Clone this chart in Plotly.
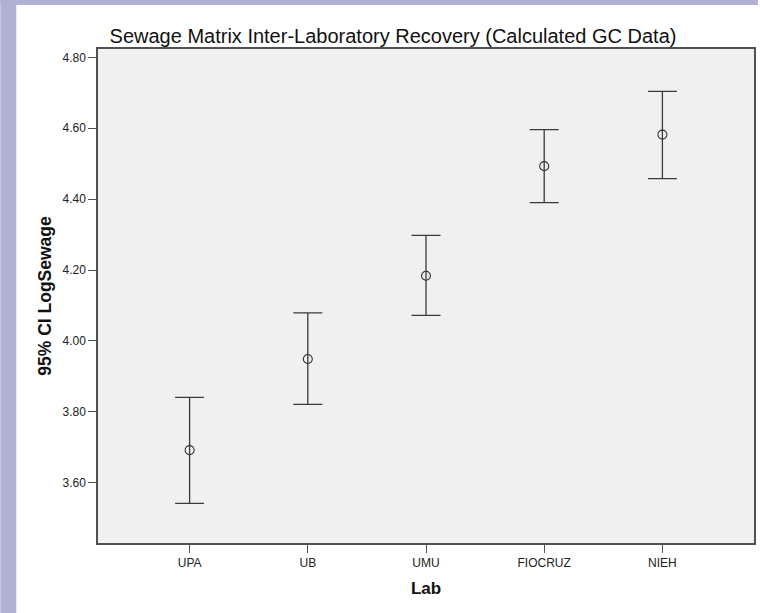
import plotly.graph_objects as go

labs = ["UPA", "UB", "UMU", "FIOCRUZ", "NIEH"]
means = [3.692, 3.949, 4.184, 4.493, 4.582]
upper = [3.841, 4.079, 4.298, 4.596, 4.704]
lower = [3.542, 3.821, 4.072, 4.390, 4.458]
yticks = [3.60, 3.80, 4.00, 4.20, 4.40, 4.60, 4.80]

err_plus = [u - m for u, m in zip(upper, means)]
err_minus = [m - l for m, l in zip(means, lower)]

fig = go.Figure()
fig.add_trace(go.Scatter(
    x=list(range(len(labs))), y=means, mode="markers",
    marker=dict(symbol="circle-open", size=9, color="#333333", line=dict(width=1.1, color="#333333")),
    error_y=dict(type="data", symmetric=False, array=err_plus, arrayminus=err_minus,
                 color="#3a3a3a", thickness=1.3, width=14.5),
    showlegend=False, hoverinfo="skip",
))

W, H = 760, 613
L, R, T, B = 98, 4, 49, 70
pw, ph = W - L - R, H - T - B

def px_to_paper_x(px):
    return (px - L) / pw

def px_to_paper_y(py):
    return (H - B - py) / ph

band = "#b1b1d3"
shapes = [
    dict(type="rect", xref="paper", yref="paper", layer="below",
         x0=px_to_paper_x(0), x1=px_to_paper_x(16), y0=px_to_paper_y(H), y1=px_to_paper_y(0),
         fillcolor=band, line=dict(width=0)),
    dict(type="rect", xref="paper", yref="paper", layer="below",
         x0=px_to_paper_x(0), x1=px_to_paper_x(W), y0=px_to_paper_y(5), y1=px_to_paper_y(0),
         fillcolor=band, line=dict(width=0)),
]

font_family = "Liberation Sans, Arial, sans-serif"
fig.update_layout(
    width=W, height=H, autosize=False,
    margin=dict(l=L, r=R, t=T, b=B, pad=0),
    paper_bgcolor="white", plot_bgcolor="#f0f0f0",
    font=dict(family=font_family, color="#222222"),
    shapes=shapes,
    title=dict(text="Sewage Matrix Inter-Laboratory Recovery (Calculated GC Data)",
               x=393 / W, xanchor="center", xref="container",
               y=1 - 36 / H, yanchor="middle", yref="container",
               font=dict(size=20, color="#111111", family=font_family)),
    xaxis=dict(
        tickmode="array", tickvals=list(range(len(labs))), ticktext=labs,
        range=[-0.775, 4.775], showgrid=False, zeroline=False,
        showline=True, mirror=True, linecolor="#505050", linewidth=1.5,
        ticks="outside", ticklen=8, tickwidth=1.2, tickcolor="#505050",
        tickfont=dict(size=12, color="#222222"),
        title=dict(text="<b>Lab</b>", font=dict(size=17, color="#111111"), standoff=13),
    ),
    yaxis=dict(
        tickmode="array", tickvals=yticks, ticktext=[f"{v:.2f}" for v in yticks],
        range=[3.4301, 4.8234], showgrid=False, zeroline=False,
        showline=True, mirror=True, linecolor="#505050", linewidth=1.5,
        ticks="outside", ticklen=8, tickwidth=1.2, tickcolor="#505050",
        tickfont=dict(size=12, color="#222222"),
        title=dict(text="<b>95% CI LogSewage</b>", font=dict(size=17.5, color="#111111"), standoff=6),
    ),
)

fig.write_html("out.html", config={"displayModeBar": False},
               post_script="document.body.style.margin='0';document.body.style.padding='0';")
